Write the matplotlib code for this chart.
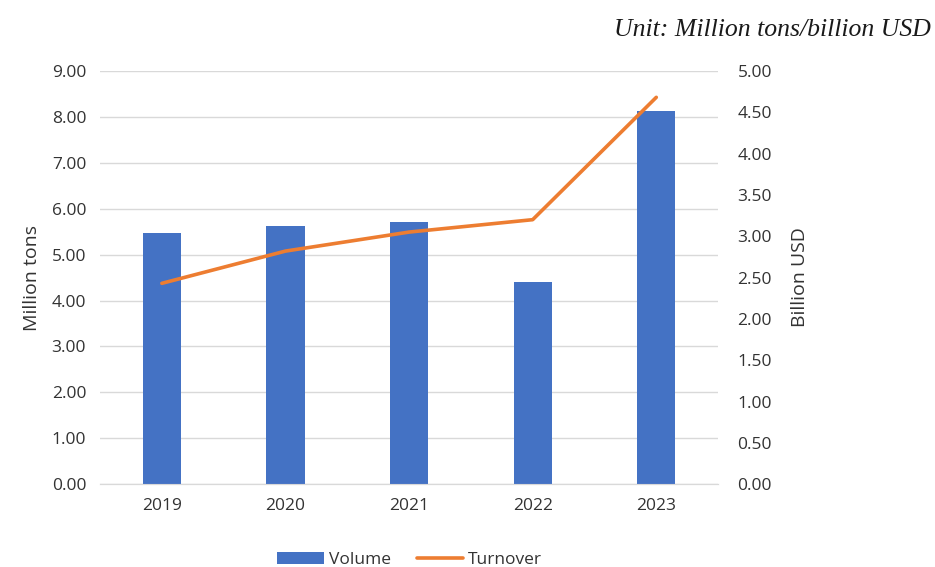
import matplotlib.pyplot as plt
import numpy as np

years = ["2019", "2020", "2021", "2022", "2023"]
volume = [5.47, 5.63, 5.71, 4.40, 8.13]        # million tons
turnover = [2.43, 2.82, 3.05, 3.20, 4.68]      # billion USD
left_ticks = [0, 1, 2, 3, 4, 5, 6, 7, 8, 9]
right_ticks = [0, 0.5, 1, 1.5, 2, 2.5, 3, 3.5, 4, 4.5, 5]

plt.rcParams['font.family'] = ['Open Sans', 'DejaVu Sans']
text_color = '#333333'
fs = 12.5

fig = plt.figure(figsize=(9.35, 5.67), dpi=100)
ax = fig.add_axes([0.107, 0.146, 0.661, 0.729])
ax2 = ax.twinx()

x = np.arange(len(years))
bars = ax.bar(x, volume, width=0.31, color='#4472C4', label='Volume', zorder=3)
line, = ax2.plot(x, turnover, color='#ED7D31', lw=2.6, label='Turnover',
                 solid_capstyle='round', zorder=4)

ax.set_xlim(-0.5, 4.5)
ax.set_ylim(0, 9)
ax2.set_ylim(0, 5)
ax.set_xticks(x)
ax.set_xticklabels(years)
ax.set_yticks(left_ticks)
ax.set_yticklabels([f"{v:.2f}" for v in left_ticks])
ax2.set_yticks(right_ticks)
ax2.set_yticklabels([f"{v:.2f}" for v in right_ticks])

ax.grid(axis='y', color='#d9d9d9', lw=1, zorder=0)
ax.set_axisbelow(True)
for a in (ax, ax2):
    for s in ('top', 'left', 'right'):
        a.spines[s].set_visible(False)
    a.spines['bottom'].set_color('#d9d9d9')
    a.tick_params(length=0, labelsize=fs, colors=text_color)
ax.tick_params(axis='y', pad=10)
ax2.tick_params(axis='y', pad=14)
ax.tick_params(axis='x', pad=10)

ax.set_ylabel('Million tons', fontsize=14, color=text_color, labelpad=8)
ax2.set_ylabel('Billion USD', fontsize=14, color=text_color, labelpad=14)

fig.legend([bars, line], ['Volume', 'Turnover'], loc='center', ncol=2,
           bbox_to_anchor=(0.438, 0.013), frameon=False, fontsize=fs,
           labelcolor=text_color, handlelength=2.7, handletextpad=0.25,
           columnspacing=1.5)

fig.text(0.996, 0.947, 'Unit: Million tons/billion USD', ha='right', va='center',
         fontsize=18.5, style='italic', family='Liberation Serif', color='#1a1a1a')

fig.savefig('out.png', dpi=100)
